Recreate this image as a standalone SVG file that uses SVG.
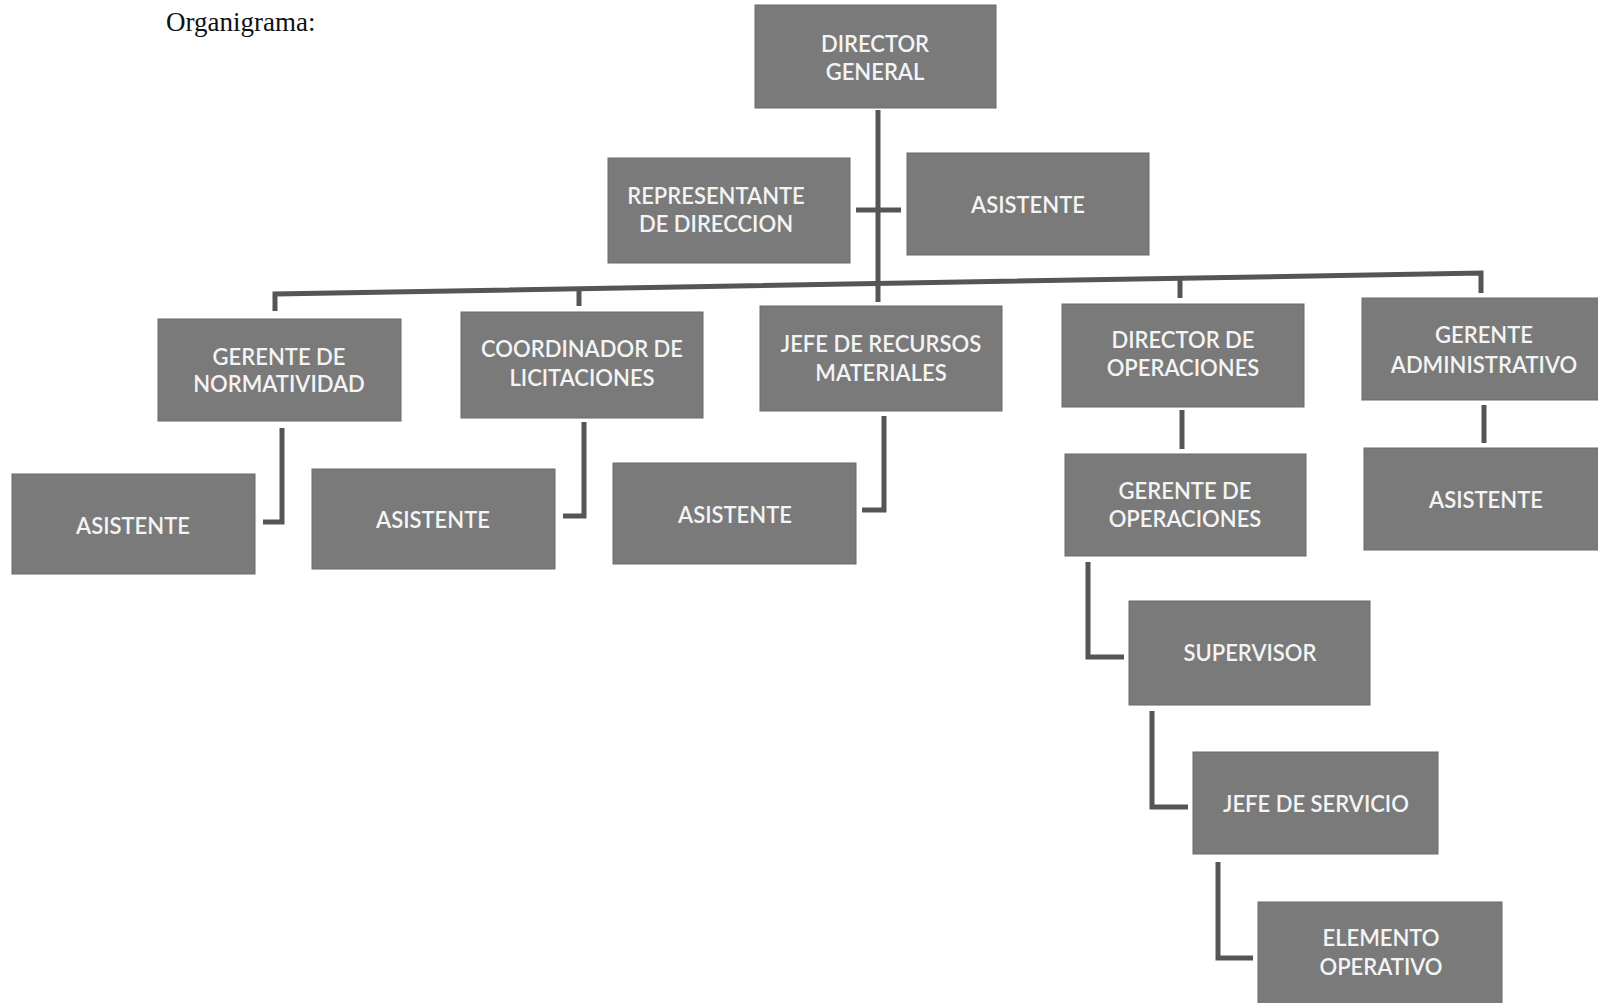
<svg xmlns="http://www.w3.org/2000/svg" width="1598" height="1003" viewBox="0 0 1598 1003">
<style>
.box{fill:#7a7a7a;stroke:#6a6a6a;stroke-width:1}
.t{font-family:Lato,"Open Sans","Liberation Sans",sans-serif;font-size:22px;font-weight:600;fill:#f4f4f4;text-anchor:middle;dominant-baseline:central}
.c{fill:none;stroke:#555;stroke-width:5;stroke-linejoin:miter}
.title{font-family:"Liberation Serif",serif;font-size:27px;fill:#111}
</style>
<rect width="1598" height="1003" fill="#fff"/>
<text class="title" x="166" y="31">Organigrama:</text>
<g id="connectors">
<path class="c" d="M878 110 V302"/>
<path class="c" d="M856 210 H901"/>
<path class="c" d="M275 311 V294 L1481 273 V293"/>
<path class="c" d="M579 291 V306"/>
<path class="c" d="M1180 276 V298"/>
<path class="c" d="M282 428 V522 H263"/>
<path class="c" d="M584 422 V516 H563"/>
<path class="c" d="M884 416 V510 H862"/>
<path class="c" d="M1182 410 V449"/>
<path class="c" d="M1484 405 V443"/>
<path class="c" d="M1088 562 V657 H1124"/>
<path class="c" d="M1152 711 V807 H1188"/>
<path class="c" d="M1218 862 V958 H1253"/>
</g>
<g id="director-general"><rect class="box" x="755" y="5" width="241" height="103"/><text class="t" x="875" y="43">DIRECTOR</text><text class="t" x="875" y="71">GENERAL</text></g>
<g id="representante"><rect class="box" x="608" y="158" width="242" height="105"/><text class="t" x="716" y="195">REPRESENTANTE</text><text class="t" x="716" y="223">DE DIRECCION</text></g>
<g id="asistente-dg"><rect class="box" x="907" y="153" width="242" height="102"/><text class="t" x="1028" y="204">ASISTENTE</text></g>
<g id="gerente-normatividad"><rect class="box" x="158" y="319" width="243" height="102"/><text class="t" x="279" y="356">GERENTE DE</text><text class="t" x="279" y="383">NORMATIVIDAD</text></g>
<g id="coordinador-licitaciones"><rect class="box" x="461" y="312" width="242" height="106"/><text class="t" x="582" y="348">COORDINADOR DE</text><text class="t" x="582" y="377">LICITACIONES</text></g>
<g id="jefe-recursos"><rect class="box" x="760" y="306" width="242" height="105"/><text class="t" x="881" y="343">JEFE DE RECURSOS</text><text class="t" x="881" y="372">MATERIALES</text></g>
<g id="director-operaciones"><rect class="box" x="1062" y="304" width="242" height="103"/><text class="t" x="1183" y="339">DIRECTOR DE</text><text class="t" x="1183" y="367">OPERACIONES</text></g>
<g id="gerente-administrativo"><rect class="box" x="1362" y="298" width="240" height="102"/><text class="t" x="1484" y="334">GERENTE</text><text class="t" x="1484" y="364">ADMINISTRATIVO</text></g>
<g id="asistente-normatividad"><rect class="box" x="12" y="474" width="243" height="100"/><text class="t" x="133" y="525">ASISTENTE</text></g>
<g id="asistente-licitaciones"><rect class="box" x="312" y="469" width="243" height="100"/><text class="t" x="433" y="519">ASISTENTE</text></g>
<g id="asistente-recursos"><rect class="box" x="613" y="463" width="243" height="101"/><text class="t" x="735" y="514">ASISTENTE</text></g>
<g id="gerente-operaciones"><rect class="box" x="1065" y="454" width="241" height="102"/><text class="t" x="1185" y="490">GERENTE DE</text><text class="t" x="1185" y="518">OPERACIONES</text></g>
<g id="asistente-administrativo"><rect class="box" x="1364" y="448" width="238" height="102"/><text class="t" x="1486" y="499">ASISTENTE</text></g>
<g id="supervisor"><rect class="box" x="1129" y="601" width="241" height="104"/><text class="t" x="1250" y="652">SUPERVISOR</text></g>
<g id="jefe-servicio"><rect class="box" x="1193" y="752" width="245" height="102"/><text class="t" x="1316" y="803">JEFE DE SERVICIO</text></g>
<g id="elemento-operativo"><rect class="box" x="1258" y="902" width="244" height="105"/><text class="t" x="1381" y="937">ELEMENTO</text><text class="t" x="1381" y="966">OPERATIVO</text></g>
</svg>
